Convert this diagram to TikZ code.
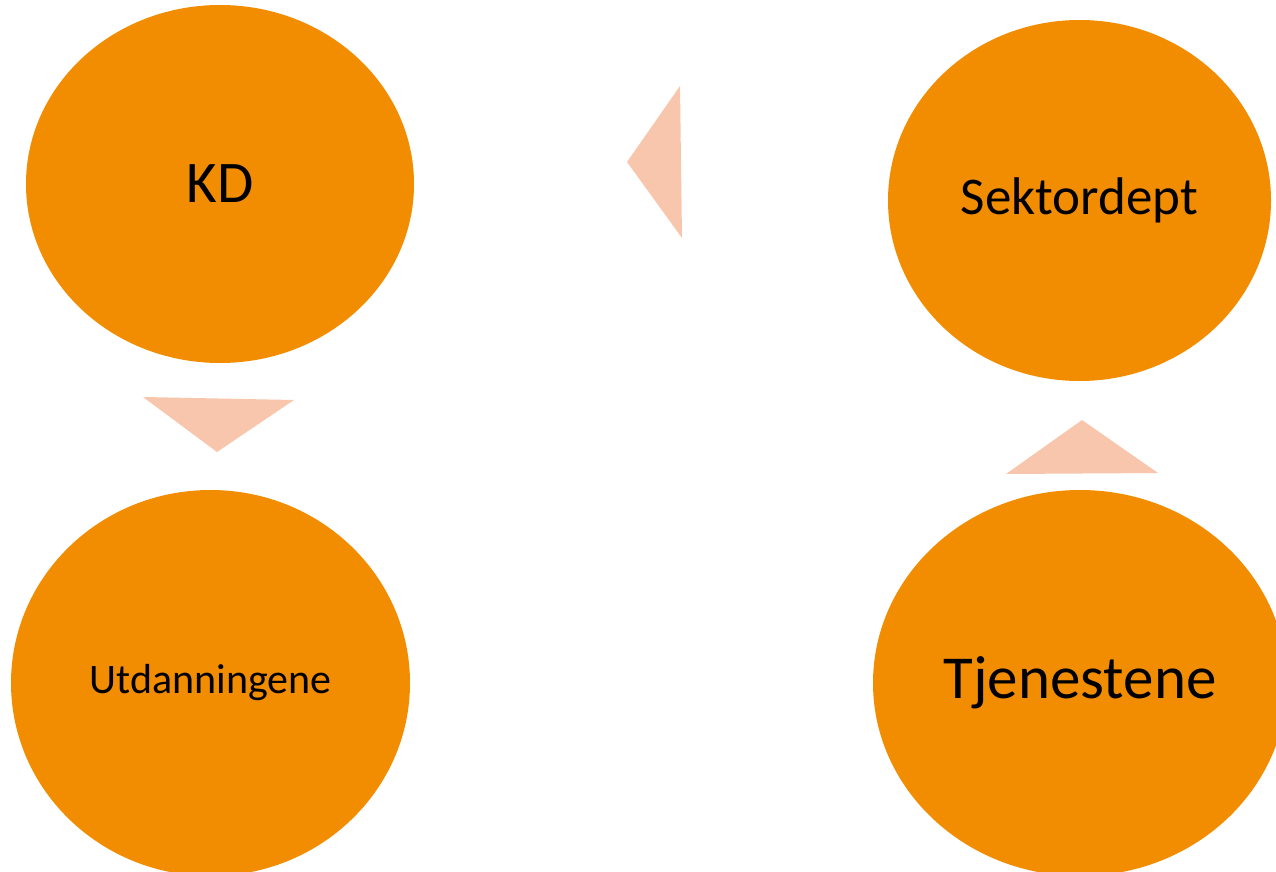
\documentclass[tikz,border=0pt]{standalone}
\usepackage{fontspec}
\setmainfont{Carlito}
\usetikzlibrary{shapes.geometric}
\definecolor{orng}{RGB}{242,140,0}
\definecolor{peach}{RGB}{248,198,172}
\tikzset{
  blob/.style={ellipse, fill=orng, draw=none, inner sep=0pt, text=black},
  tri/.style={fill=peach, draw=none}
}
\begin{document}
\begin{tikzpicture}[x=1pt,y=-1pt]
\useasboundingbox (0,0) rectangle (1276,872);
\clip (0,0) rectangle (1276,872);
\node[blob, minimum width=388pt, minimum height=358pt, font=\fontsize{59}{61}\selectfont] (kd) at (220,184) {KD};
\node[blob, minimum width=383pt, minimum height=361pt, font=\fontsize{53}{55}\selectfont] (sek) at (1079.5,200.5) {Sektordept};
\node[blob, minimum width=399pt, minimum height=386pt, font=\fontsize{42}{44}\selectfont] (utd) at (210.5,683) {Utdanningene};
\node[blob, minimum width=414pt, minimum height=386pt, font=\fontsize{61}{63}\selectfont] (tje) at (1080,683) {Tjenestene};
% arrows (triangles)
\fill[tri] (680,86) -- (627,162) -- (682,238) -- cycle;
\fill[tri] (143,397) -- (294,400) -- (217,452) -- cycle;
\fill[tri] (1082,420) -- (1158,473) -- (1006,474) -- cycle;
\end{tikzpicture}
\end{document}
